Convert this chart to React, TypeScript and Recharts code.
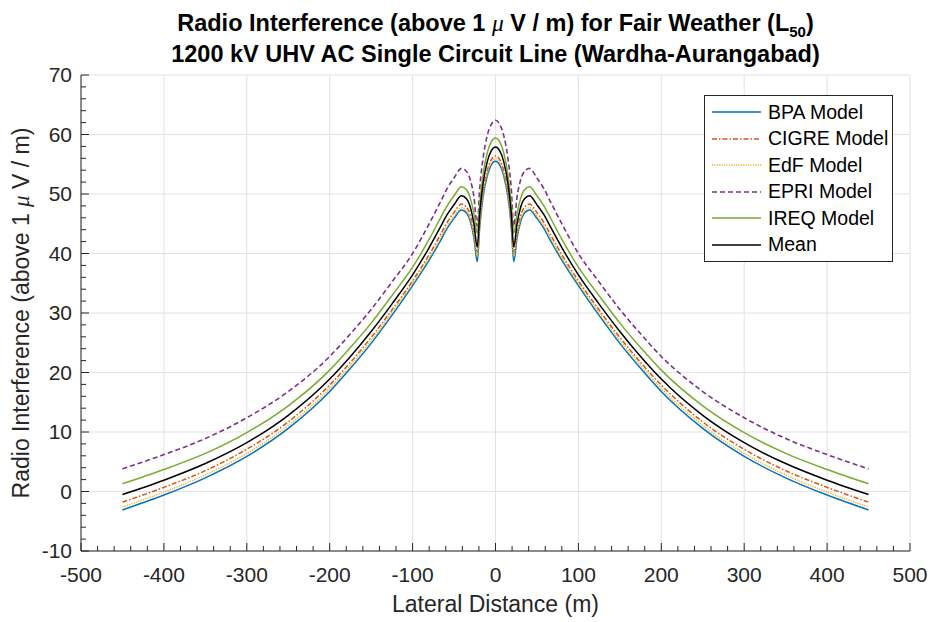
import React from "react";
import { LineChart, Line, XAxis, YAxis, CartesianGrid } from "recharts";

const FONT = '"Liberation Sans", Arial, Helvetica, sans-serif';
const MU_FONT = '"Liberation Serif", "DejaVu Serif", serif';
const INK = "#262626";

// lateral distance from the line centre (m)
const distance = [
  -450, -400, -350, -300, -250, -200, -175, -150, -125, -100, -80, -67, -58, -50, -41, -35, -30, -26, -22, -19, -15, -10, -5,
  0, 5, 10, 15, 19, 22, 26, 30, 35, 41, 50, 58, 67, 80, 100, 125, 150, 175, 200, 250, 300, 350, 400, 450,
];

const bpaModel = [
  -3.1, -0.6, 2.3, 5.9, 10.6, 16.8, 20.7, 24.9, 29.6, 34.6, 38.9, 42.0, 44.3, 45.9, 47.3, 46.8, 45.2, 42.6, 38.6, 44.5, 49.5, 53.0, 54.9,
  55.5, 54.9, 53.0, 49.5, 44.5, 38.6, 42.6, 45.2, 46.8, 47.3, 45.9, 44.3, 42.0, 38.9, 34.6, 29.6, 24.9, 20.7, 16.8, 10.6, 5.9, 2.3, -0.6, -3.1,
];
const cigreModel = [
  -1.8, 0.7, 3.5, 7.1, 11.7, 17.9, 21.7, 25.9, 30.5, 35.4, 39.8, 43.0, 45.3, 46.9, 48.3, 47.8, 46.2, 43.6, 40.3, 45.5, 50.4, 53.9, 55.8,
  56.4, 55.8, 53.9, 50.4, 45.5, 40.3, 43.6, 46.2, 47.8, 48.3, 46.9, 45.3, 43.0, 39.8, 35.4, 30.5, 25.9, 21.7, 17.9, 11.7, 7.1, 3.5, 0.7, -1.8,
];
const edfModel = [
  -2.6, -0.1, 2.8, 6.4, 11.1, 17.3, 21.2, 25.4, 30.1, 35.0, 39.3, 42.4, 44.7, 46.3, 47.7, 47.2, 45.6, 43.0, 39.6, 45.0, 49.9, 53.4, 55.3,
  55.9, 55.3, 53.4, 49.9, 45.0, 39.6, 43.0, 45.6, 47.2, 47.7, 46.3, 44.7, 42.4, 39.3, 35.0, 30.1, 25.4, 21.2, 17.3, 11.1, 6.4, 2.8, -0.1, -2.6,
];
const epriModel = [
  3.8, 6.2, 8.9, 12.4, 16.8, 22.7, 26.5, 30.6, 35.2, 40.0, 45.0, 48.5, 51.0, 52.7, 54.3, 53.8, 52.2, 49.5, 44.6, 51.0, 56.0, 59.8, 61.7,
  62.4, 61.7, 59.8, 56.0, 51.0, 44.6, 49.5, 52.2, 53.8, 54.3, 52.7, 51.0, 48.5, 45.0, 40.0, 35.2, 30.6, 26.5, 22.7, 16.8, 12.4, 8.9, 6.2, 3.8,
];
const ireqModel = [
  1.3, 3.7, 6.4, 9.9, 14.4, 20.4, 24.2, 28.3, 32.9, 37.7, 42.4, 45.8, 48.1, 49.7, 51.2, 50.7, 49.1, 46.7, 43.4, 48.3, 53.2, 56.9, 58.8,
  59.4, 58.8, 56.9, 53.2, 48.3, 43.4, 46.7, 49.1, 50.7, 51.2, 49.7, 48.1, 45.8, 42.4, 37.7, 32.9, 28.3, 24.2, 20.4, 14.4, 9.9, 6.4, 3.7, 1.3,
];
const meanModel = [
  -0.5, 1.9, 4.7, 8.2, 12.8, 18.9, 22.7, 26.9, 31.5, 36.4, 41.0, 44.3, 46.6, 48.2, 49.7, 49.2, 47.6, 45.0, 41.1, 46.8, 51.8, 55.4, 57.3,
  57.9, 57.3, 55.4, 51.8, 46.8, 41.1, 45.0, 47.6, 49.2, 49.7, 48.2, 46.6, 44.3, 41.0, 36.4, 31.5, 26.9, 22.7, 18.9, 12.8, 8.2, 4.7, 1.9, -0.5,
];

const xMajorTicks = [-500, -400, -300, -200, -100, 0, 100, 200, 300, 400, 500];
const yMajorTicks = [-10, 0, 10, 20, 30, 40, 50, 60, 70];

// minor ticks, matlab style
const xTicks: number[] = [];
for (let v = -500; v <= 500; v += 20) xTicks.push(v);
const yTicks: number[] = [];
for (let v = -10; v <= 70; v += 2) yTicks.push(v);

const series = [
  { key: "bpa", name: "BPA Model", values: bpaModel, color: "#0072BD", dash: undefined as string | undefined, width: 1.5 },
  { key: "cigre", name: "CIGRE Model", values: cigreModel, color: "#D95319", dash: "5 2 1.5 2", width: 1.5 },
  { key: "edf", name: "EdF Model", values: edfModel, color: "#EDB120", dash: "1.2 1.2", width: 1.5 },
  { key: "epri", name: "EPRI Model", values: epriModel, color: "#7E2F8E", dash: "5 3", width: 1.6 },
  { key: "ireq", name: "IREQ Model", values: ireqModel, color: "#77AC30", dash: undefined, width: 1.5 },
  { key: "mean", name: "Mean", values: meanModel, color: "#000000", dash: undefined, width: 1.5 },
];

const rows = distance.map((x, i) => {
  const r: Record<string, number> = { x };
  series.forEach((s) => (r[s.key] = s.values[i]));
  return r;
});

const BottomTick = (p: any) => {
  const major = p.payload.value % 100 === 0;
  return (
    <g>
      <line x1={p.x} x2={p.x} y1={p.y} y2={p.y - (major ? 8 : 5)} stroke={INK} />
      {major && (
        <text x={p.x} y={p.y + 31} textAnchor="middle" fontSize={21} fill={INK} fontFamily={FONT}>
          {p.payload.value}
        </text>
      )}
    </g>
  );
};

const TopTick = (p: any) => {
  const major = p.payload.value % 100 === 0;
  return <line x1={p.x} x2={p.x} y1={p.y} y2={p.y + (major ? 8 : 5)} stroke={INK} />;
};

const LeftTick = (p: any) => {
  const major = p.payload.value % 10 === 0;
  return (
    <g>
      <line x1={p.x} x2={p.x + (major ? 8 : 5)} y1={p.y} y2={p.y} stroke={INK} />
      {major && (
        <text x={p.x - 9} y={p.y} dy="0.35em" textAnchor="end" fontSize={21} fill={INK} fontFamily={FONT}>
          {p.payload.value}
        </text>
      )}
    </g>
  );
};

const RightTick = (p: any) => {
  const major = p.payload.value % 10 === 0;
  return <line x1={p.x} x2={p.x - (major ? 8 : 5)} y1={p.y} y2={p.y} stroke={INK} />;
};

const XLabel = (p: any) => {
  const vb = p.viewBox;
  return (
    <text x={vb.x + vb.width / 2} y={vb.y + 61} textAnchor="middle" fontSize={23} fill={INK} fontFamily={FONT}>
      Lateral Distance (m)
    </text>
  );
};

const YLabel = (p: any) => {
  const vb = p.viewBox;
  const cx = vb.x - 2;
  const cy = vb.y + vb.height / 2;
  return (
    <text transform={`translate(${cx},${cy}) rotate(-90)`} textAnchor="middle" fontSize={23} fill={INK} fontFamily={FONT}>
      Radio Interference (above 1 <tspan fontStyle="italic" fontFamily={MU_FONT}>μ</tspan> V / m)
    </text>
  );
};

const Legend = () => (
  <div
    style={{
      position: "absolute",
      left: 704,
      top: 95,
      width: 189,
      height: 167,
      boxSizing: "border-box",
      border: `1px solid ${INK}`,
      background: "#fff",
      paddingTop: 3,
      fontFamily: FONT,
      fontSize: 19.5,
      color: "#000",
    }}
  >
    {series.map((s) => (
      <div key={s.key} style={{ height: 26.5, display: "flex", alignItems: "center" }}>
        <svg width={63} height={10} style={{ flex: "none" }}>
          <line x1={7} x2={56} y1={5} y2={5} stroke={s.color} strokeWidth={s.width} strokeDasharray={s.dash} />
        </svg>
        <span style={{ lineHeight: 1 }}>{s.name}</span>
      </div>
    ))}
  </div>
);

export default function App() {
  return (
    <div style={{ position: "absolute", left: 0, top: 0, width: 930, height: 622, background: "#fff" }}>
      <div
        style={{
          position: "absolute",
          left: 81,
          top: 8,
          width: 829,
          textAlign: "center",
          fontFamily: FONT,
          fontWeight: "bold",
          fontSize: 23.5,
          lineHeight: "31px",
          color: "#000",
        }}
      >
        <div>
          Radio Interference (above 1{" "}
          <span style={{ fontStyle: "italic", fontWeight: "normal", fontFamily: MU_FONT }}>μ</span> V / m) for Fair
          Weather (L<sub style={{ fontSize: 15, lineHeight: 0, verticalAlign: "-6px" }}>50</sub>)
        </div>
        <div>1200 kV UHV AC Single Circuit Line (Wardha-Aurangabad)</div>
      </div>
      <LineChart width={930} height={622} data={rows} margin={{ top: 75, right: 20, bottom: 31, left: 31 }}>
        <CartesianGrid stroke="#e2e2e2" verticalValues={xMajorTicks} horizontalValues={yMajorTicks} />
        <XAxis
          dataKey="x"
          type="number"
          domain={[-500, 500]}
          ticks={xTicks}
          interval={0}
          allowDataOverflow
          height={40}
          tickSize={0}
          tickMargin={0}
          tickLine={false}
          axisLine={{ stroke: INK }}
          tick={BottomTick}
          label={{ content: XLabel }}
        />
        <XAxis
          xAxisId="top"
          orientation="top"
          type="number"
          domain={[-500, 500]}
          ticks={xTicks}
          interval={0}
          allowDataOverflow
          height={0}
          tickSize={0}
          tickMargin={0}
          tickLine={false}
          axisLine={{ stroke: INK }}
          tick={TopTick}
        />
        <YAxis
          type="number"
          domain={[-10, 70]}
          ticks={yTicks}
          interval={0}
          allowDataOverflow
          width={50}
          tickSize={0}
          tickMargin={0}
          tickLine={false}
          axisLine={{ stroke: INK }}
          tick={LeftTick}
          label={{ content: YLabel }}
        />
        <YAxis
          yAxisId="right"
          orientation="right"
          type="number"
          domain={[-10, 70]}
          ticks={yTicks}
          interval={0}
          allowDataOverflow
          width={0}
          tickSize={0}
          tickMargin={0}
          tickLine={false}
          axisLine={{ stroke: INK }}
          tick={RightTick}
        />
        {series.map((s) => (
          <Line
            key={s.key}
            type="monotone"
            dataKey={s.key}
            name={s.name}
            stroke={s.color}
            strokeWidth={s.width}
            strokeDasharray={s.dash}
            dot={false}
            activeDot={false}
            isAnimationActive={false}
          />
        ))}
      </LineChart>
      <Legend />
    </div>
  );
}
